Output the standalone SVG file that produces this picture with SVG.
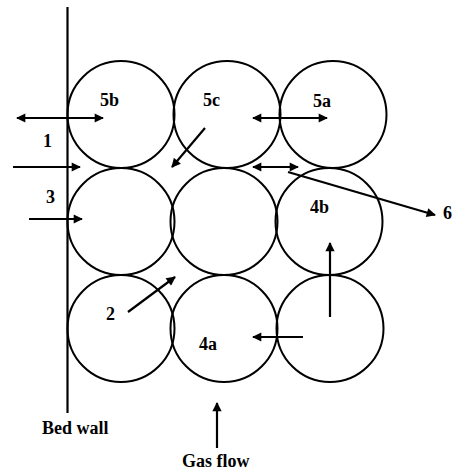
<svg xmlns="http://www.w3.org/2000/svg" width="452" height="474" viewBox="0 0 452 474">
<style>
.p{fill:none;stroke:#000;stroke-width:2}
.w{stroke:#000;stroke-width:2.2}
.a{stroke:#000;stroke-width:2.2;fill:none}
text{font-family:'Liberation Serif','Times New Roman',serif;font-size:18px;font-weight:bold;fill:#000}
</style>
<defs>
<marker id="ah" viewBox="0 0 10 10" refX="9" refY="5" markerWidth="5" markerHeight="4.2" markerUnits="strokeWidth" orient="auto-start-reverse">
<path d="M0,0 L10,5 L0,10 Z" fill="#000"/>
</marker>
</defs>
<rect width="452" height="474" fill="#fff"/>
<g id="wall"><line class="w" x1="67.5" y1="7" x2="67.5" y2="413"/><text x="42" y="434">Bed wall</text></g>
<g id="p5b"><circle class="p" cx="121" cy="114.5" r="53.5"/><text x="100" y="106">5b</text></g>
<g id="p5c"><circle class="p" cx="227" cy="114.5" r="53.5"/><text x="203" y="106">5c</text></g>
<g id="p5a"><circle class="p" cx="333" cy="114.5" r="53.5"/><text x="313" y="107">5a</text></g>
<g id="p21"><circle class="p" cx="121" cy="221.5" r="53.5"/></g>
<g id="p22"><circle class="p" cx="224" cy="221.5" r="53.5"/></g>
<g id="p4b"><circle class="p" cx="329" cy="221.5" r="53.5"/><text x="310" y="213">4b</text></g>
<g id="p31"><circle class="p" cx="121" cy="328.5" r="53.5"/></g>
<g id="p4a"><circle class="p" cx="224" cy="328.5" r="53.5"/><text x="199" y="350">4a</text></g>
<g id="p33"><circle class="p" cx="330" cy="328.5" r="53.5"/></g>
<g id="labels">
<text x="43" y="147">1</text>
<text x="46" y="203">3</text>
<text x="106" y="320">2</text>
<text x="443" y="219">6</text>
<text x="182" y="467">Gas flow</text>
</g>
<g id="connectors">
<line class="a" x1="17" y1="118" x2="103" y2="118" marker-start="url(#ah)" marker-end="url(#ah)"/>
<line class="a" x1="13" y1="167" x2="80" y2="167" marker-end="url(#ah)"/>
<line class="a" x1="29" y1="219" x2="82" y2="219" marker-end="url(#ah)"/>
<line class="a" x1="205" y1="128" x2="172" y2="167" marker-end="url(#ah)"/>
<line class="a" x1="253" y1="118" x2="327" y2="118" marker-start="url(#ah)" marker-end="url(#ah)"/>
<line class="a" x1="253" y1="167" x2="298" y2="167" marker-start="url(#ah)" marker-end="url(#ah)"/>
<line class="a" x1="288" y1="172" x2="435" y2="215" marker-end="url(#ah)"/>
<line class="a" x1="128" y1="312" x2="175" y2="277" marker-end="url(#ah)"/>
<line class="a" x1="330" y1="317" x2="330" y2="243" marker-end="url(#ah)"/>
<line class="a" x1="303" y1="337" x2="253" y2="337" marker-end="url(#ah)"/>
<line class="a" x1="217" y1="448" x2="217" y2="403" marker-end="url(#ah)"/>
</g>
</svg>
